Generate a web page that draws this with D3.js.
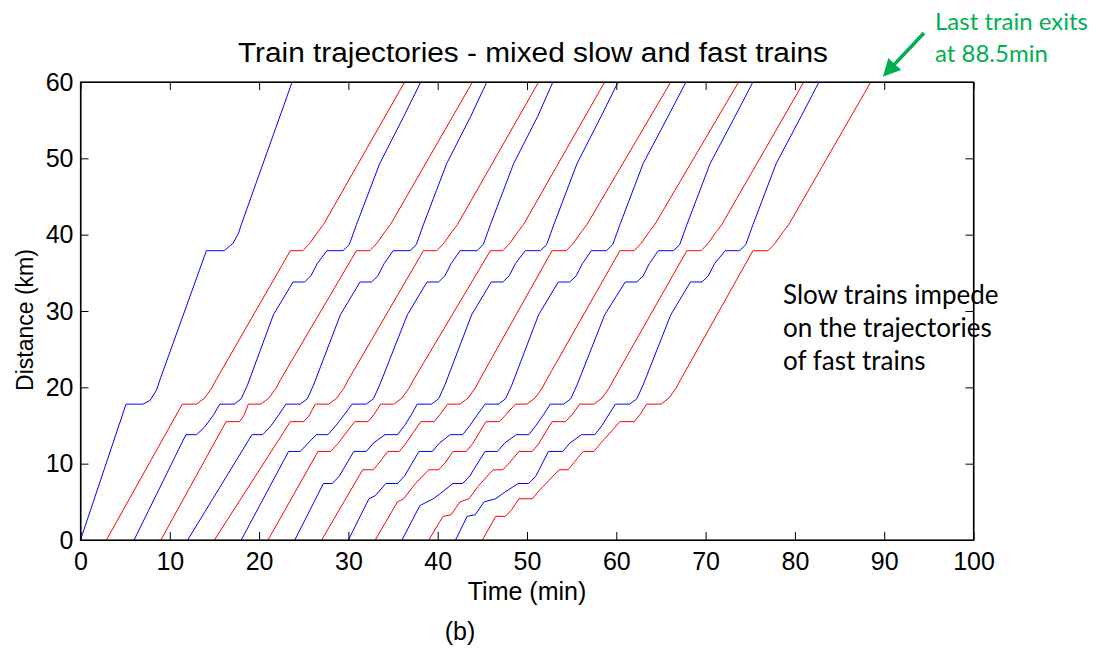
<!DOCTYPE html>
<html>
<head>
<meta charset="utf-8">
<script src="https://cdn.jsdelivr.net/npm/d3@7"></script>
<style>
  body { margin: 0; background: #fff; }
  svg text { font-family: "Liberation Sans", Arial, sans-serif; }
</style>
</head>
<body>
<div id="chart"></div>
<script>
// tick labels
var timeTicks = [0, 10, 20, 30, 40, 50, 60, 70, 80, 90, 100];
var distTicks = [0, 10, 20, 30, 40, 50, 60];

// fast trains (blue) - [time (min), distance (km)]
var fastTrains = [
  [[0,0],[5.1,17.8],[7.0,17.8],[7.8,18.3],[8.5,19.6],[8.9,21.0],[14.1,37.9],[16.1,37.9],[17.1,38.9],[17.7,40.2],[18.0,41.3],[23.7,60]],
  [[6.0,0],[11.8,13.8],[13.0,13.8],[13.9,14.8],[14.9,16.4],[15.6,17.8],[17.2,17.8],[18.0,18.5],[18.7,20.3],[21.6,29.5],[23.8,33.8],[25.1,33.8],[25.8,34.6],[26.5,36.2],[27.6,37.9],[29.4,37.9],[30.1,38.7],[30.9,41.3],[33.5,49.3],[36.2,55.5],[38.1,60]],
  [[12.0,0],[19.2,13.8],[20.4,13.8],[21.3,14.9],[22.2,16.4],[23.0,17.8],[24.6,17.8],[25.4,18.5],[26.1,20.3],[29.1,29.5],[31.3,33.8],[32.6,33.8],[33.3,34.6],[34.0,36.2],[35.0,37.9],[36.9,37.9],[37.6,38.7],[38.4,41.3],[41.0,49.3],[43.7,55.5],[45.5,60]],
  [[18.0,0],[23.3,11.6],[24.6,11.6],[25.5,12.7],[26.4,13.8],[27.7,13.8],[28.6,15.0],[29.6,16.5],[30.4,17.8],[32.0,17.8],[32.8,18.5],[33.5,20.3],[36.6,29.5],[38.8,33.8],[40.1,33.8],[40.8,34.6],[41.5,36.2],[42.5,37.9],[44.4,37.9],[45.1,38.7],[45.9,41.3],[48.5,49.3],[51.2,55.5],[52.9,60]],
  [[24.0,0],[27.2,7.4],[28.2,7.4],[29.0,8.4],[30.6,11.6],[32.0,11.6],[32.8,12.7],[34.1,13.8],[35.5,13.8],[36.3,15.0],[37.1,16.5],[37.7,17.8],[39.3,17.8],[40.1,18.5],[40.8,20.3],[43.8,29.5],[46.0,33.8],[47.3,33.8],[48.0,34.6],[48.7,36.2],[49.8,37.9],[51.5,37.9],[52.2,38.7],[53.0,41.3],[55.6,49.3],[58.3,55.5],[60.2,60]],
  [[30.0,0],[32.3,5.4],[33.0,5.8],[34.2,7.4],[35.5,7.4],[36.3,8.4],[37.9,11.6],[39.4,11.6],[40.2,12.7],[41.4,13.8],[42.8,13.8],[43.6,15.0],[44.5,16.5],[45.3,17.8],[46.8,17.8],[47.6,18.5],[48.3,20.3],[51.3,29.5],[53.5,33.8],[54.8,33.8],[55.5,34.6],[56.2,36.2],[57.2,37.9],[58.9,37.9],[59.6,38.7],[60.4,41.3],[63.0,49.3],[65.8,55.5],[67.8,60]],
  [[36.0,0],[38.0,4.5],[39.5,5.4],[40.2,6.0],[41.7,7.4],[42.8,7.4],[43.6,8.4],[45.3,11.6],[46.7,11.6],[47.5,12.7],[48.8,13.8],[50.2,13.8],[51.0,15.0],[51.9,16.5],[52.6,17.8],[54.1,17.8],[54.9,18.5],[55.6,20.3],[58.7,29.5],[61.0,33.8],[62.3,33.8],[63.0,34.6],[63.7,36.2],[64.7,37.9],[66.4,37.9],[67.1,38.7],[67.9,41.3],[70.5,49.3],[73.3,55.5],[75.3,60]],
  [[42.0,0],[43.3,3.1],[44.2,3.3],[45.2,5.0],[46.5,5.4],[47.3,6.1],[49.0,7.4],[50.2,7.4],[51.0,8.4],[52.4,11.6],[54.0,11.6],[54.8,12.7],[56.1,13.8],[57.6,13.8],[58.4,15.0],[59.2,16.5],[59.9,17.8],[61.5,17.8],[62.3,18.5],[63.0,20.3],[66.1,29.5],[68.3,33.8],[69.6,33.8],[70.3,34.6],[71.0,36.2],[72.2,37.9],[73.8,37.9],[74.5,38.7],[75.3,41.3],[77.9,49.3],[80.7,55.5],[82.7,60]]
];

// slow trains (red)
var slowTrains = [
  [[2.9,0],[11.4,17.8],[13.0,17.8],[13.9,18.6],[14.7,19.9],[15.2,21.0],[23.5,37.9],[24.9,37.9],[25.7,38.9],[26.6,40.4],[27.2,41.3],[36.3,60]],
  [[9.0,0],[16.3,15.5],[17.8,15.5],[18.3,16.3],[18.8,17.8],[20.2,17.8],[21.1,18.6],[21.9,19.9],[22.4,21.0],[30.9,37.9],[32.4,37.9],[33.2,38.9],[34.1,40.4],[34.7,41.3],[43.9,60]],
  [[15.0,0],[23.5,15.5],[25.0,15.5],[25.6,16.3],[26.3,17.8],[27.8,17.8],[28.7,18.6],[29.5,19.9],[30.0,21.0],[38.4,37.9],[39.9,37.9],[40.7,38.9],[41.6,40.4],[42.2,41.3],[51.3,60]],
  [[21.0,0],[26.6,11.6],[28.0,11.6],[28.8,12.6],[30.7,15.5],[32.2,15.5],[32.9,16.5],[33.6,17.8],[35.1,17.8],[36.0,18.6],[36.8,19.9],[37.3,21.0],[45.9,37.9],[47.3,37.9],[48.1,38.9],[49.0,40.4],[49.6,41.3],[58.7,60]],
  [[27.0,0],[31.6,9.2],[32.8,9.2],[33.5,10.2],[34.4,11.6],[35.7,11.6],[36.4,12.6],[38.1,15.5],[39.6,15.5],[40.3,16.5],[41.1,17.8],[42.5,17.8],[43.4,18.6],[44.2,19.9],[44.7,21.0],[52.8,37.9],[54.4,37.9],[55.2,38.9],[56.1,40.4],[56.7,41.3],[66.1,60]],
  [[33.0,0],[35.5,5.0],[36.2,5.4],[37.5,7.4],[39.0,9.2],[40.1,9.2],[40.9,10.2],[41.7,11.6],[43.2,11.6],[43.9,12.6],[45.4,15.5],[46.9,15.5],[47.7,16.5],[48.7,17.8],[50.0,17.8],[50.9,18.6],[51.7,19.9],[52.2,21.0],[60.4,37.9],[62.0,37.9],[62.8,38.9],[63.7,40.4],[64.3,41.3],[73.7,60]],
  [[39.0,0],[40.6,3.1],[41.5,3.3],[42.5,5.0],[43.5,5.4],[44.5,7.0],[46.2,9.2],[47.3,9.2],[48.1,10.2],[49.1,11.6],[50.6,11.6],[51.3,12.6],[52.8,15.5],[54.3,15.5],[55.1,16.5],[55.9,17.8],[57.5,17.8],[58.4,18.6],[59.2,19.9],[59.7,21.0],[67.9,37.9],[69.5,37.9],[70.3,38.9],[71.2,40.4],[71.8,41.3],[81.0,60]],
  [[45.0,0],[46.5,3.1],[47.6,3.1],[48.3,4.0],[49.1,5.4],[50.6,5.4],[51.3,6.4],[53.6,9.2],[54.6,9.2],[55.3,10.2],[56.3,11.6],[57.5,11.6],[58.2,12.6],[60.4,15.5],[62.0,15.5],[62.7,16.5],[63.4,17.8],[65.0,17.8],[65.9,18.6],[66.7,19.9],[67.2,21.0],[75.3,37.9],[77.0,37.9],[77.8,38.9],[78.7,40.4],[79.3,41.3],[88.5,60]]
];

var width = 1115, height = 648;
var margin = {top: 82, right: 141.5, bottom: 108, left: 80.5};

var svg = d3.select("#chart")
  .append("svg")
    .attr("width", width)
    .attr("height", height);

svg.append("rect").attr("width", width).attr("height", height).attr("fill", "#fff");

var x = d3.scaleLinear().domain([0, 100]).range([margin.left, width - margin.right]);
var y = d3.scaleLinear().domain([0, 60]).range([height - margin.bottom, margin.top]);

var line = d3.line()
  .x(function(d) { return x(d[0]); })
  .y(function(d) { return y(d[1]); });

// trajectories
svg.append("g").selectAll("path.slow")
  .data(slowTrains)
  .enter().append("path")
    .attr("fill", "none")
    .attr("stroke", "#ff0000")
    .attr("stroke-width", 1)
    .attr("d", line);

svg.append("g").selectAll("path.fast")
  .data(fastTrains)
  .enter().append("path")
    .attr("fill", "none")
    .attr("stroke", "#0000ff")
    .attr("stroke-width", 1)
    .attr("d", line);

// axes, matlab style: ticks pointing in, box all round
var fs = "25px";
var gx = svg.append("g")
  .attr("transform", "translate(0," + y(0) + ")")
  .call(d3.axisBottom(x).tickValues(timeTicks).tickSizeInner(-8).tickSizeOuter(0).tickPadding(12));
var gy = svg.append("g")
  .attr("transform", "translate(" + x(0) + ",0)")
  .call(d3.axisLeft(y).tickValues(distTicks).tickSizeInner(-8).tickSizeOuter(0).tickPadding(7));
svg.append("g")
  .attr("transform", "translate(0," + y(60) + ")")
  .call(d3.axisTop(x).tickValues(timeTicks).tickSizeInner(-8).tickSizeOuter(0).tickFormat(""));
svg.append("g")
  .attr("transform", "translate(" + x(100) + ",0)")
  .call(d3.axisRight(y).tickValues(distTicks).tickSizeInner(-8).tickSizeOuter(0).tickFormat(""));

svg.selectAll(".tick text").attr("font-size", fs).attr("fill", "#000")
  .style("font-family", "'Liberation Sans', Arial, sans-serif");
svg.selectAll(".domain, .tick line").attr("stroke", "#000");

svg.append("rect")
  .attr("x", x(0)).attr("y", y(60))
  .attr("width", x(100) - x(0)).attr("height", y(0) - y(60))
  .attr("fill", "none").attr("stroke", "#000").attr("stroke-width", 1.2);

// labels
svg.append("text")
  .attr("x", 533).attr("y", 62)
  .attr("text-anchor", "middle").attr("font-size", "27px")
  .attr("textLength", 590).attr("lengthAdjust", "spacingAndGlyphs")
  .text("Train trajectories - mixed slow and fast trains");

svg.append("text")
  .attr("x", (x(0) + x(100)) / 2).attr("y", 600)
  .attr("text-anchor", "middle").attr("font-size", fs)
  .text("Time (min)");

svg.append("text")
  .attr("transform", "translate(33,320) rotate(-90)")
  .attr("text-anchor", "middle").attr("font-size", "23px")
  .text("Distance (km)");

svg.append("text")
  .attr("x", 460).attr("y", 640)
  .attr("text-anchor", "middle").attr("font-size", fs)
  .text("(b)");

// annotations
var note = svg.append("text")
  .attr("x", 783).attr("y", 304)
  .attr("font-size", "26px")
  .style("font-family", "Lato, 'Open Sans', sans-serif")
  .attr("fill", "#000");
["Slow trains impede", "on the trajectories", "of fast trains"].forEach(function(s, i) {
  note.append("tspan").attr("x", 783).attr("dy", i ? 33 : 0).text(s);
});

var green = "#00b050";
var gnote = svg.append("text")
  .attr("x", 935).attr("y", 30)
  .attr("font-size", "24px")
  .style("font-family", "Lato, 'Open Sans', sans-serif")
  .attr("fill", green);
["Last train exits", "at 88.5min"].forEach(function(s, i) {
  gnote.append("tspan").attr("x", 935).attr("dy", i ? 32 : 0).text(s);
});

svg.append("defs").append("marker")
  .attr("id", "arr").attr("viewBox", "0 0 10 10")
  .attr("refX", 4).attr("refY", 5)
  .attr("markerWidth", 5).attr("markerHeight", 5)
  .attr("orient", "auto")
  .append("path").attr("d", "M0,0L10,5L0,10z").attr("fill", green);

svg.append("line")
  .attr("x1", 924).attr("y1", 33)
  .attr("x2", 890).attr("y2", 69)
  .attr("stroke", green).attr("stroke-width", 3.5)
  .attr("marker-end", "url(#arr)");
</script>
</body>
</html>
